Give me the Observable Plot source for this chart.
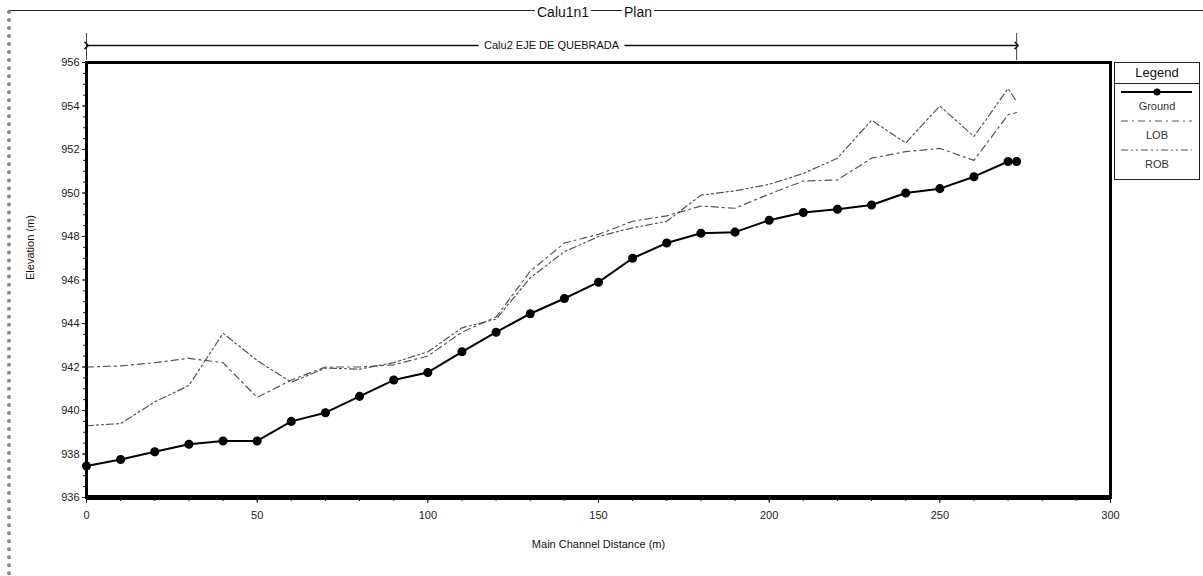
<!DOCTYPE html>
<html><head><meta charset="utf-8">
<script src="https://cdn.jsdelivr.net/npm/d3@7"></script>
<script src="https://cdn.jsdelivr.net/npm/@observablehq/plot@0.6"></script>
<style>
body{margin:0;background:#fff;font-family:"Liberation Sans",Arial,sans-serif;}
#wrap{position:relative;width:1203px;height:576px;overflow:hidden;background:#fff;}
#topline{position:absolute;left:8px;top:10px;width:1195px;border-top:1.5px solid #222;}
#leftedge{position:absolute;left:7px;top:10px;height:566px;border-left:4px dotted #8a8a8a;}
.ttl{position:absolute;top:4px;font-size:14px;color:#111;background:#fff;padding:0 2px;line-height:16px;}
#legend{position:absolute;left:1114px;top:62px;width:86px;height:118px;border:1.5px solid #222;box-sizing:border-box;background:#fff;}
#legend .hd{height:20px;border-bottom:1.5px solid #222;text-align:center;font-size:13px;line-height:20px;color:#111;}
#legend .lab{text-align:center;font-size:11px;color:#333;line-height:14px;height:14px;}
#legend svg{display:block;}
#chart{position:absolute;left:0;top:0;}
</style></head>
<body>
<div id="wrap">
  <div id="topline"></div>
  <div id="leftedge"></div>
  <div id="chart"></div>
  <div class="ttl" style="left:535px">Calu1n1</div>
  <div class="ttl" style="left:622px">Plan</div>
  <div id="legend"></div>
</div>
<script>
// ---- data ----
const stations = [0,10,20,30,40,50,60,70,80,90,100,110,120,130,140,150,160,170,180,190,200,210,220,230,240,250,260,270,272.5];
const ground = [937.45,937.75,938.1,938.45,938.6,938.6,939.5,939.9,940.65,941.4,941.75,942.7,943.6,944.45,945.15,945.9,947.0,947.7,948.15,948.2,948.75,949.1,949.25,949.45,950.0,950.2,950.75,951.45,951.45];
const lob = [942.0,942.05,942.2,942.4,942.2,940.6,941.4,942.0,942.0,942.1,942.5,943.6,944.3,946.4,947.7,948.1,948.7,948.95,949.4,949.3,949.95,950.55,950.6,951.6,951.9,952.05,951.5,953.6,953.7];
const rob = [939.3,939.4,940.4,941.15,943.55,942.3,941.3,941.95,941.9,942.2,942.7,943.8,944.2,946.1,947.3,948.0,948.4,948.7,949.9,950.1,950.4,950.9,951.6,953.35,952.3,954.0,952.6,954.8,954.2];
const seriesNames = ["Ground","LOB","ROB"];
const xTicks = [0,50,100,150,200,250,300];
const xMinor = d3.range(0,301,10);
const yTicks = [936,938,940,942,944,946,948,950,952,954,956];
const yMinor = d3.range(936,956.01,0.5);
const reachName = "Calu2 EJE DE QUEBRADA";
const reachEnds = [0, 272.5];
const xLabel = "Main Channel Distance (m)";
const yLabel = "Elevation (m)";

// ---- styles ----
const dashLOB = "7,4,2,4";
const dashROB = "7,3,2,3,2,3";
const grayLine = "#555";

const rows = stations.map((s,i)=>({s, ground: ground[i], lob: lob[i], rob: rob[i]}));
const reach = [{a: reachEnds[0], b: reachEnds[1], name: reachName}];

const chart = Plot.plot({
  width: 1203, height: 576,
  marginLeft: 86, marginRight: 93, marginTop: 62, marginBottom: 79,
  style: {fontFamily: '"Liberation Sans", Arial, sans-serif', background: "transparent", overflow: "visible", color: "#222"},
  x: {domain: [0,300], ticks: xTicks, tickSize: 6, tickPadding: 8, label: null, tickFormat: d3.format("d")},
  y: {domain: [936,956], ticks: yTicks, tickSize: 4, tickPadding: 3, label: null, tickFormat: d3.format("d")},
  marks: [
    // minor ticks
    Plot.ruleX(xMinor, {x: d=>d, y1: ()=>936, y2: ()=>936, insetTop: 0, insetBottom: -4, stroke: "#222", strokeWidth: 1}),
    Plot.ruleY(yMinor, {y: d=>d, x1: ()=>0, x2: ()=>0, insetLeft: -3, insetRight: 0, stroke: "#222", strokeWidth: 1}),
    // lines
    Plot.line(rows, {x: "s", y: "rob", stroke: grayLine, strokeWidth: 1.2, strokeDasharray: dashROB}),
    Plot.line(rows, {x: "s", y: "lob", stroke: grayLine, strokeWidth: 1.2, strokeDasharray: dashLOB}),
    Plot.line(rows, {x: "s", y: "ground", stroke: "#000", strokeWidth: 2}),
    Plot.dot(rows, {x: "s", y: "ground", r: 3.8, fill: "#000", stroke: "#000"}),
    // frame
    Plot.frame({stroke: "#000", strokeWidth: 3}),
    Plot.ruleY([936], {stroke: "#000", strokeWidth: 5}),
    // reach arrow
    Plot.ruleX(reachEnds, {x: d=>d, y1: ()=>956, y2: ()=>956, insetTop: -29, insetBottom: 2, stroke: "#444", strokeWidth: 1}),
    Plot.link(reach, {x1: "a", x2: "b", y1: ()=>956, y2: ()=>956, dy: -17, stroke: "#111", strokeWidth: 1.6, markerStart: "arrow", markerEnd: "arrow"}),
    Plot.text(reach, {x: d=>(d.a+d.b)/2, y: ()=>956, dy: -17, text: "name", fill: "#111", stroke: "#fff", strokeWidth: 12, fontSize: 11}),
    // axis labels
    Plot.text([yLabel], {frameAnchor: "left", dx: -56, rotate: -90, fontSize: 11, fill: "#111"}),
    Plot.text([xLabel], {frameAnchor: "bottom", dy: 50, fontSize: 11, fill: "#111"})
  ]
});
chart.querySelectorAll("g[aria-label^='x-axis'], g[aria-label^='y-axis']").forEach(g=>{g.setAttribute("font-size","11"); g.setAttribute("fill","#222");});
document.getElementById("chart").appendChild(chart);

// ---- legend ----
const lg = document.getElementById("legend");
const hd = document.createElement("div"); hd.className="hd"; hd.textContent="Legend"; lg.appendChild(hd);
const styles = {Ground: {dash: null, w: 2, c: "#000", dot: true}, LOB: {dash: dashLOB, w: 1.2, c: grayLine}, ROB: {dash: dashROB, w: 1.2, c: grayLine}};
seriesNames.forEach(n=>{
  const st = styles[n];
  const svg = d3.create("svg").attr("width", 83).attr("height", 15);
  svg.append("line").attr("x1",6).attr("x2",77).attr("y1",8).attr("y2",8).attr("stroke",st.c).attr("stroke-width",st.w).attr("stroke-dasharray",st.dash);
  if (st.dot) svg.append("circle").attr("cx",42).attr("cy",8).attr("r",3.5).attr("fill","#000");
  lg.appendChild(svg.node());
  const lab = document.createElement("div"); lab.className="lab"; lab.textContent=n; lg.appendChild(lab);
});
</script>
</body></html>
